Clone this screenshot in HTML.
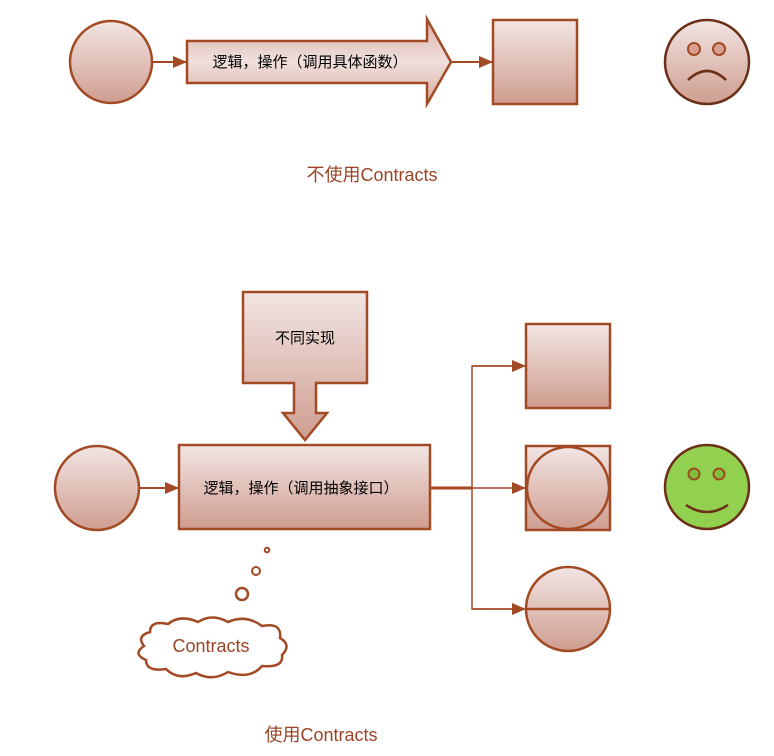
<!DOCTYPE html>
<html><head><meta charset="utf-8"><style>html,body{margin:0;padding:0;background:#fff}svg{display:block}</style></head>
<body>
<svg width="774" height="756" viewBox="0 0 774 756" xmlns="http://www.w3.org/2000/svg" font-family="'Liberation Sans','Noto Sans CJK SC',sans-serif">
<defs>
<linearGradient id="g" x1="0" y1="0" x2="0" y2="1"><stop offset="0" stop-color="#f2e5e3"/><stop offset="1" stop-color="#cf9d90"/></linearGradient>
<linearGradient id="g2" x1="0" y1="0" x2="0" y2="1"><stop offset="0" stop-color="#d9aca1"/><stop offset="0.5" stop-color="#f0e0dd"/><stop offset="1" stop-color="#d9aca1"/></linearGradient>
<marker id="b" markerWidth="14" markerHeight="12" refX="14" refY="6" orient="auto" markerUnits="userSpaceOnUse"><path d="M0,0 L14,6 L0,12 Z" fill="#a14a24"/></marker>
</defs>
<g stroke="#a14a24" stroke-width="2.5">
<circle cx="111" cy="62" r="41" fill="url(#g)"/>
<line x1="153" y1="62" x2="187" y2="62" stroke-width="2" marker-end="url(#b)"/>
<path d="M187,41 L427,41 L427,19 L451,62 L427,104 L427,83 L187,83 Z" fill="url(#g2)"/>
<line x1="451" y1="62" x2="493" y2="62" stroke-width="2" marker-end="url(#b)"/>
<rect x="493" y="20" width="84" height="84" fill="url(#g)"/>
<circle cx="707" cy="62" r="42" fill="url(#g)" stroke="#6b2e16"/>
<circle cx="694" cy="49" r="6" fill="#d8a092" stroke-width="2"/>
<circle cx="719" cy="49" r="6" fill="#d8a092" stroke-width="2"/>
<path d="M688,80 Q707,62 726,80" fill="none" stroke="#6b2e16"/>
<path d="M243,292 L367,292 L367,383 L316,383 L316,413 L327,413 L305,440 L283,413 L294,413 L294,383 L243,383 Z" fill="url(#g)"/>
<circle cx="97" cy="488" r="42" fill="url(#g)"/>
<line x1="139" y1="488" x2="179" y2="488" stroke-width="2" marker-end="url(#b)"/>
<rect x="179" y="445" width="251" height="84" fill="url(#g)"/>
<line x1="430" y1="488" x2="472" y2="488" stroke-width="3"/>
<polyline points="526,366 472,366 472,609 526,609" fill="none" stroke-width="1.5"/>
<line x1="472" y1="366" x2="526" y2="366" stroke-width="1.5" marker-end="url(#b)"/>
<line x1="472" y1="488" x2="526" y2="488" stroke-width="1.5" marker-end="url(#b)"/>
<line x1="472" y1="609" x2="526" y2="609" stroke-width="1.5" marker-end="url(#b)"/>
<rect x="526" y="324" width="84" height="84" fill="url(#g)"/>
<rect x="526" y="446" width="84" height="84" fill="url(#g)"/>
<circle cx="568" cy="488" r="41" fill="url(#g)"/>
<circle cx="568" cy="609" r="42" fill="url(#g)"/>
<line x1="526" y1="609" x2="610" y2="609"/>
<circle cx="707" cy="487" r="42" fill="#92d050" stroke="#6b2e16"/>
<circle cx="694" cy="474" r="5.5" fill="#7fbf3a" stroke-width="2"/>
<circle cx="719" cy="474" r="5.5" fill="#7fbf3a" stroke-width="2"/>
<path d="M686,505 Q707,519 728,505" fill="none" stroke="#6b2e16"/>
<circle cx="267" cy="550" r="2.3" fill="#fff" stroke-width="2"/>
<circle cx="256" cy="571" r="4" fill="#fff" stroke-width="2"/>
<circle cx="242" cy="594" r="6" fill="#fff" stroke-width="2.5"/>
<path d="M150,632 Q150,620 168,624 Q180,614 198,622 Q212,613 228,622 Q246,614 262,626 Q282,622 280,638 Q292,645 282,655 Q284,668 262,666 Q250,680 228,672 Q212,682 196,673 Q178,681 166,669 Q146,672 146,660 Q132,654 144,646 Q136,636 150,632 Z" fill="#fff" stroke-width="2.5"/>
</g>
<g font-size="15" fill="#000" text-anchor="middle">
<text x="310" y="67">逻辑，操作（调用具体函数）</text>
<text x="305" y="343">不同实现</text>
<text x="301" y="493">逻辑，操作（调用抽象接口）</text>
</g>
<g fill="#9a4425" text-anchor="middle" font-size="18">
<text x="372" y="181">不使用Contracts</text>
<text x="211" y="652">Contracts</text>
<text x="321" y="741">使用Contracts</text>
</g>
</svg>
</body></html>
